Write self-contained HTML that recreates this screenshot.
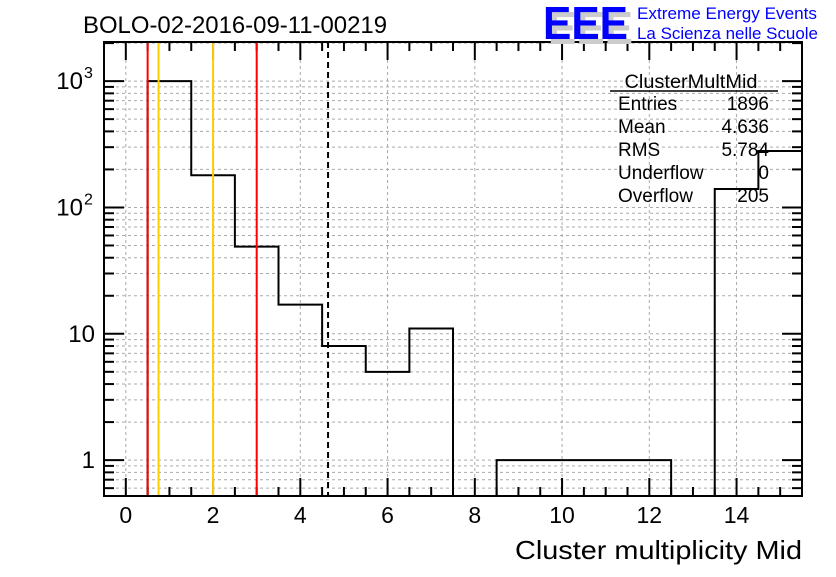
<!DOCTYPE html>
<html><head><meta charset="utf-8"><style>
body{margin:0;background:#fff;}
svg text{font-family:"Liberation Sans",sans-serif;}
</style></head><body>
<svg id="c" width="836" height="572" xmlns="http://www.w3.org/2000/svg"></svg>
<script>
const binEdgesLow = [0.5,1.5,2.5,3.5,4.5,5.5,6.5,7.5,8.5,9.5,10.5,11.5,12.5,13.5,14.5];
const binCounts = [1000,180,49,17,8,5,11,0,1,1,1,1,0,140,280];
const xTicks = [0,2,4,6,8,10,12,14];
const yTickVals = [1,10,100,1000];
const yTickLabels = ["1","10","10^2","10^3"];
const redLines = [0.5,3];
const yellowLines = [0.75,2];
const meanLine = [4.636];
const statNames = ["Entries","Mean","RMS","Underflow","Overflow"];
const statValues = ["1896","4.636","5.784","0","205"];

const L=104,R=802,T=42,B=496,xmin=-0.5,xmax=15.5;
const ymin=Math.log10(0.52),ymax=Math.log10(2040);
const X=v=>L+(v-xmin)/(xmax-xmin)*(R-L);
const Y=v=>B-(Math.log10(Math.max(v,1e-3))-ymin)/(ymax-ymin)*(B-T);
const svg=document.getElementById('c');
const NS="http://www.w3.org/2000/svg";
function mk(tag,attrs,parent){const e=document.createElementNS(NS,tag);for(const k in attrs)e.setAttribute(k,attrs[k]);(parent||svg).appendChild(e);return e;}

// grid
const grid=mk('g',{});


xTicks.forEach(v=>mk('line',{x1:X(v),x2:X(v),y1:T,y2:B,stroke:'#aaa','stroke-dasharray':'3,3','stroke-width':1},grid));
for(let d=-1;d<=3;d++)for(let m=1;m<=9;m++){const v=m*Math.pow(10,d);const y=Y(v);if(y<T||y>B)continue;mk('line',{x1:L,x2:R,y1:y,y2:y,stroke:'#aaa','stroke-dasharray':'3,3','stroke-width':1},grid);}

// histogram
let d='';
const base=B;
binEdgesLow.forEach((lo,i)=>{
  const hi=Math.min(lo+1,xmax);
  const y=binCounts[i]>0?Y(binCounts[i]):base;
  if(i===0)d+=`M${X(lo)},${base}`;
  d+=` L${X(lo)},${y} L${X(hi)},${y}`;
});
const hist=mk('path',{d:d,fill:'none',stroke:'#000','stroke-width':2});



// ticks
const ax=mk('g',{stroke:'#000','stroke-width':2});


for(let v=0;v<=15.5;v+=0.5){const maj=(v%2===0);const len=maj?18:9;const x=X(v);if(x>R)continue;
  mk('line',{x1:x,x2:x,y1:B,y2:B-len},ax);mk('line',{x1:x,x2:x,y1:T,y2:T+len},ax);}
for(let dd=-1;dd<=3;dd++)for(let m=1;m<=9;m++){const v=m*Math.pow(10,dd);const y=Y(v);if(y<T||y>B)continue;const len=m===1?20:10;
  mk('line',{x1:L,x2:L+len,y1:y,y2:y},ax);mk('line',{x1:R,x2:R-len,y1:y,y2:y},ax);}

// vertical lines
redLines.forEach(v=>{const l=mk('line',{x1:X(v),x2:X(v),y1:T,y2:B,stroke:'#f00','stroke-width':2});});
yellowLines.forEach(v=>{const l=mk('line',{x1:X(v),x2:X(v),y1:T,y2:B,stroke:'#fc0','stroke-width':2});});
meanLine.forEach(v=>{const l=mk('line',{x1:X(v),x2:X(v),y1:T,y2:B,stroke:'#000','stroke-width':2,'stroke-dasharray':'6,4'});});

// frame
const fr=mk('rect',{x:L,y:T,width:R-L,height:B-T,fill:'none',stroke:'#000','stroke-width':2});



// x labels
xTicks.forEach(v=>{const t=mk('text',{x:X(v),y:523,'font-size':23,'text-anchor':'middle'});t.textContent=v;});
// y labels
yTickVals.forEach((v,i)=>{const lab=yTickLabels[i];const y=Y(v)+8;
  const t=mk('text',{x:95,y:y,'font-size':24,'text-anchor':'end'});
  
  
  if(lab.includes('^')){const p=lab.split('^');t.setAttribute('x',83);t.textContent=p[0];
    const s=mk('text',{x:84,y:y-11,'font-size':16});s.textContent=p[1];
    
    }
  else t.textContent=lab;});

// titles
let t=mk('text',{x:515,y:559,'font-size':26,textLength:287,lengthAdjust:'spacingAndGlyphs'});t.textContent='Cluster multiplicity Mid';

t=mk('text',{x:83,y:33,'font-size':24,textLength:304,lengthAdjust:'spacingAndGlyphs'});t.textContent='BOLO-02-2016-09-11-00219';


// logo
const lg=mk('g',{});


t=mk('text',{x:548,y:44,'font-size':46,'font-weight':'bold',fill:'#ccc',textLength:85,lengthAdjust:'spacingAndGlyphs'},lg);t.textContent='EEE';
t=mk('text',{x:543,y:39,'font-size':46,'font-weight':'bold',fill:'#00f',textLength:85,lengthAdjust:'spacingAndGlyphs'},lg);t.textContent='EEE';
t=mk('text',{x:637,y:19,'font-size':17,fill:'#00f',textLength:180,lengthAdjust:'spacingAndGlyphs'},lg);t.textContent='Extreme Energy Events';
t=mk('text',{x:637,y:39,'font-size':17,fill:'#00f',textLength:181,lengthAdjust:'spacingAndGlyphs'},lg);t.textContent='La Scienza nelle Scuole';

// stats box
const sb=mk('g',{'font-size':19});


t=mk('text',{x:691,y:88,'text-anchor':'middle',textLength:133,lengthAdjust:'spacingAndGlyphs'},sb);t.textContent='ClusterMultMid';
mk('line',{x1:610,x2:778,y1:91,y2:91,stroke:'#000','stroke-width':1.5},sb);
statNames.forEach((n,i)=>{const y=110+i*23;
  let a=mk('text',{x:618,y:y},sb);a.textContent=n;
  let b=mk('text',{x:769,y:y,'text-anchor':'end'},sb);b.textContent=statValues[i];});
</script>
</body></html>
